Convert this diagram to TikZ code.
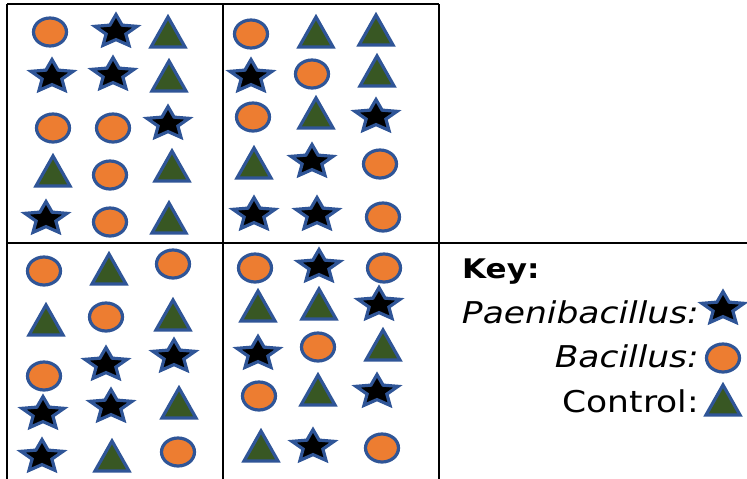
\documentclass[tikz,border=0pt]{standalone}
\usepackage{fontspec}
\setmainfont{DejaVu Sans}
\newfontfamily\keyfont[FakeStretch=1.15]{DejaVu Sans}
\definecolor{outl}{HTML}{2F5597}
\definecolor{orng}{HTML}{ED7D31}
\definecolor{grn}{HTML}{385723}
\tikzset{
  shp/.style={draw=outl, line width=3.2pt, line join=miter},
  grid/.style={draw=black, line width=2.2pt},
  bac/.pic={\path[shp, fill=orng] (0,0) ellipse [x radius=16.5pt, y radius=14pt];},
  ctl/.pic={\path[shp, fill=grn] (0,-15) -- (17,15) -- (-17,15) -- cycle;},
  pstar/.pic={\path[shp, fill=black, yshift=-1.6pt]
     (0,-17) -- (6.1,-6.47) -- (21.0,-5.25) -- (9.9,2.47) -- (13.0,13.75)
     -- (0,8) -- (-13.0,13.75) -- (-9.9,2.47) -- (-21.0,-5.25) -- (-6.1,-6.47) -- cycle;},
  keytext/.style={font=\keyfont\fontsize{30}{35}\selectfont, inner sep=0pt},
}
\begin{document}
\begin{tikzpicture}[x=1pt,y=-1pt]
\useasboundingbox (0,0) rectangle (747,479);
% grid
\coordinate (tl) at (7,4);
\coordinate (tm) at (223,4);
\coordinate (tr) at (439,4);
\coordinate (bl) at (7,479);
\coordinate (bm) at (223,479);
\coordinate (br) at (439,479);
\coordinate (ml) at (7,243);
\coordinate (mr) at (747,243);
\draw[grid] (tl) -- (tr);
\draw[grid] (tl) -- (bl);
\draw[grid] (tm) -- (bm);
\draw[grid] (tr) -- (br);
\draw[grid] (ml) -- (mr);
% panel 1
\pic at (50,32) {bac}; \pic at (116,30) {pstar}; \pic at (168,32) {ctl};
\pic at (52,75) {pstar}; \pic at (113,73) {pstar}; \pic at (169,76) {ctl};
\pic at (53,128) {bac}; \pic at (113,128) {bac}; \pic at (168,122) {pstar};
\pic at (53,171) {ctl}; \pic at (110,175) {bac}; \pic at (172,166) {ctl};
\pic at (46,217) {pstar}; \pic at (110,222) {bac}; \pic at (169,218) {ctl};
% panel 2
\pic at (251,34) {bac}; \pic at (316,32) {ctl}; \pic at (376,30) {ctl};
\pic at (251,75) {pstar}; \pic at (312,74) {bac}; \pic at (377,71) {ctl};
\pic at (253,117) {bac}; \pic at (316,113) {ctl}; \pic at (376,115) {pstar};
\pic at (254,163) {ctl}; \pic at (312,160) {pstar}; \pic at (380,164) {bac};
\pic at (254,213) {pstar}; \pic at (317,213) {pstar}; \pic at (383,217) {bac};
% panel 3
\pic at (44,271) {bac}; \pic at (109,269) {ctl}; \pic at (173,264) {bac};
\pic at (46,320) {ctl}; \pic at (106,317) {bac}; \pic at (173,315) {ctl};
\pic at (44,376) {bac}; \pic at (106,363) {pstar}; \pic at (174,355) {pstar};
\pic at (43,412) {pstar}; \pic at (111,405) {pstar}; \pic at (179,403) {ctl};
\pic at (42,455) {pstar}; \pic at (112,456) {ctl}; \pic at (178,452) {bac};
% panel 4
\pic at (255,268) {bac}; \pic at (319,265) {pstar}; \pic at (384,268) {bac};
\pic at (258,306) {ctl}; \pic at (319,304) {ctl}; \pic at (379,303) {pstar};
\pic at (258,352) {pstar}; \pic at (318,347) {bac}; \pic at (383,345) {ctl};
\pic at (259,396) {bac}; \pic at (318,390) {ctl}; \pic at (377,390) {pstar};
\pic at (261,446) {ctl}; \pic at (313,445) {pstar}; \pic at (382,448) {bac};
% key
\node[keytext, font=\keyfont\fontsize{27}{32}\selectfont\bfseries, anchor=base west] (key) at (462,278) {Key:};
\node[keytext, anchor=base east] (kp) at (699,323) {\itshape Paenibacillus:};
\node[keytext, anchor=base east] (kb) at (699,367) {\itshape Bacillus:};
\node[keytext, anchor=base east] (kc) at (699,412) {Control:};
\pic at (723,307) {pstar};
\pic at (723,358) {bac};
\pic at (723,400) {ctl};
\end{tikzpicture}
\end{document}
